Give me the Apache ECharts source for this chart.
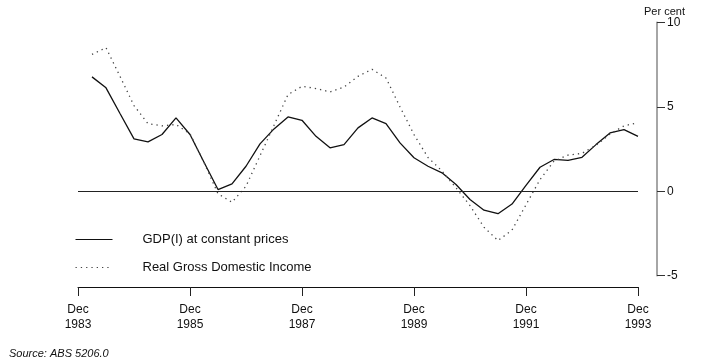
<!DOCTYPE html>
<html>
<head>
<meta charset="utf-8">
<script src="https://cdn.jsdelivr.net/npm/echarts@6/dist/echarts.min.js"></script>
<style>
html,body{margin:0;padding:0;background:#fff;}
#chart{width:709px;height:360px;}
</style>
</head>
<body>
<div id="chart"></div>
<script>
var categories = [
  "Dec 1983",
  "Mar 1984","Jun 1984","Sep 1984","Dec 1984",
  "Mar 1985","Jun 1985","Sep 1985","Dec 1985",
  "Mar 1986","Jun 1986","Sep 1986","Dec 1986",
  "Mar 1987","Jun 1987","Sep 1987","Dec 1987",
  "Mar 1988","Jun 1988","Sep 1988","Dec 1988",
  "Mar 1989","Jun 1989","Sep 1989","Dec 1989",
  "Mar 1990","Jun 1990","Sep 1990","Dec 1990",
  "Mar 1991","Jun 1991","Sep 1991","Dec 1991",
  "Mar 1992","Jun 1992","Sep 1992","Dec 1992",
  "Mar 1993","Jun 1993","Sep 1993","Dec 1993"
];
var gdpConstant = [null,
  6.77, 6.12, 4.6, 3.10, 2.92, 3.36, 4.34, 3.36, 1.72, 0.10,
  0.44, 1.48, 2.8, 3.69, 4.40, 4.20, 3.25, 2.57, 2.76, 3.75,
  4.34, 4.0, 2.86, 1.98, 1.48, 1.09, 0.40, -0.49, -1.12, -1.33,
  -0.76, 0.35, 1.42, 1.88, 1.83, 2.01, 2.76, 3.45, 3.65, 3.25
];
var realGDI = [null,
  8.1, 8.5, 6.8, 5.07, 4.0, 3.87, 3.95, 3.4, 1.7, -0.15,
  -0.65, 0.3, 2.1, 3.9, 5.72, 6.21, 6.08, 5.88, 6.17, 6.8,
  7.22, 6.7, 5.0, 3.35, 2.0, 1.2, 0.2, -0.85, -2.13, -2.92,
  -2.3, -0.8, 0.69, 1.78, 2.14, 2.24, 2.72, 3.38, 3.87, 4.06
];
var seriesNames = ["GDP(I) at constant prices", "Real Gross Domestic Income"];
var yTicks = {min: -5, max: 10, interval: 5};

var chart = echarts.init(document.getElementById('chart'), null, {renderer: 'canvas'});
var font = 'Liberation Sans, Arial, Helvetica, sans-serif';
chart.setOption({
  animation: false,
  backgroundColor: '#fff',
  title: [
    {text: 'Per cent', left: 639, top: 1,
     textStyle: {fontFamily: font, fontSize: 11, fontWeight: 'normal', color: '#111'}},
    {text: 'Source: ABS 5206.0', left: 4, top: 343,
     textStyle: {fontFamily: font, fontSize: 11, fontWeight: 'normal', fontStyle: 'italic', color: '#111'}}
  ],
  legend: {
    orient: 'vertical',
    left: 75,
    top: 233,
    padding: 0,
    itemWidth: 37,
    itemHeight: 14,
    itemGap: 15,
    itemStyle: {opacity: 0},
    lineStyle: {width: 1},
    textStyle: {fontFamily: font, fontSize: 13, color: '#111', padding: [0, 0, 0, 25]},
    data: seriesNames
  },
  grid: {left: 78, right: 71, top: 22.3, bottom: 84.3, containLabel: false},
  xAxis: {
    type: 'category',
    data: categories,
    boundaryGap: false,
    offset: 11.3,
    axisLine: {onZero: false, lineStyle: {color: '#111', width: 1}},
    axisTick: {interval: 7, length: 9, lineStyle: {color: '#222'}},
    axisLabel: {
      interval: 7, margin: 15,
      fontFamily: font, fontSize: 12, color: '#111', lineHeight: 15,
      formatter: function (v) { return v.replace(' ', '\n'); }
    },
    splitLine: {show: false}
  },
  yAxis: {
    type: 'value',
    position: 'right',
    offset: 19,
    min: yTicks.min, max: yTicks.max, interval: yTicks.interval,
    axisLine: {show: true, lineStyle: {color: '#888', width: 1.5}},
    axisTick: {show: true, length: 8, lineStyle: {color: '#333'}},
    axisLabel: {margin: 10, fontFamily: font, fontSize: 12, color: '#111'},
    splitLine: {show: false}
  },
  series: [
    {
      name: seriesNames[0],
      type: 'line',
      data: gdpConstant,
      symbol: 'none',
      lineStyle: {color: '#111', width: 1.3},
      itemStyle: {color: '#111'},
      markLine: {
        silent: true,
        symbol: 'none',
        label: {show: false},
        lineStyle: {color: '#222', width: 1, type: 'solid'},
        data: [{yAxis: 0}]
      }
    },
    {
      name: seriesNames[1],
      type: 'line',
      data: realGDI,
      symbol: 'none',
      lineStyle: {color: '#444', width: 1.3, type: [1.3, 4]},
      itemStyle: {color: '#444'}
    }
  ]
});
</script>
</body>
</html>
